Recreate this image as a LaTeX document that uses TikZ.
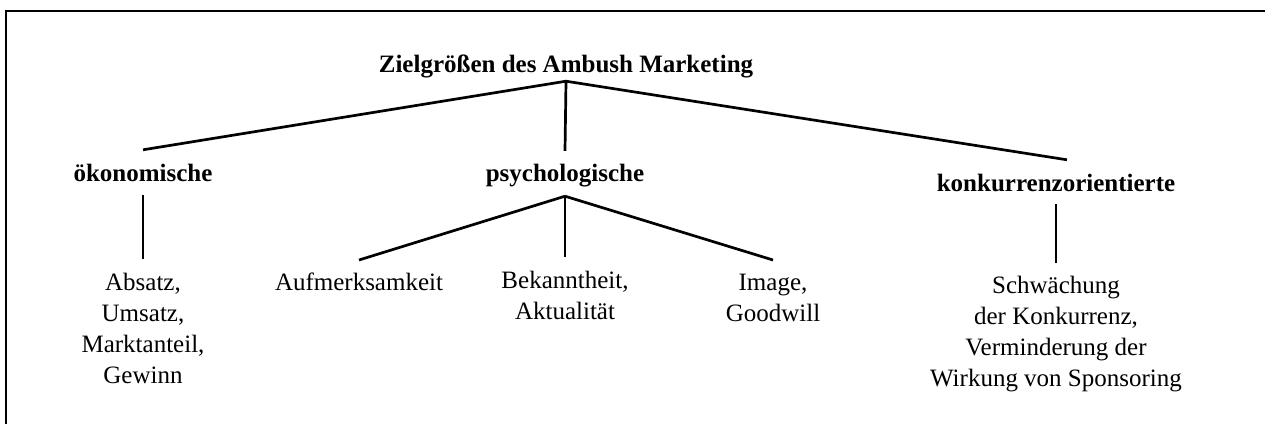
\documentclass[tikz,border=0pt]{standalone}
\usepackage{fontspec}
\setmainfont{Liberation Serif}
\begin{document}
\begin{tikzpicture}[x=1pt,y=-1pt,
  lvl/.style={inner sep=0pt,anchor=base,text height=18pt,text depth=6pt,
    font=\fontsize{25}{31}\selectfont\bfseries},
  leaf/.style={inner sep=0pt,anchor=north,align=center,
    font=\fontsize{25}{31}\selectfont},
  edge/.style={line width=2.7pt,line cap=butt}]
\useasboundingbox (0,0) rectangle (1265,423);
\clip (0,0) rectangle (1265,423);
\draw[line width=2.8pt] (6,11) rectangle (1290,450);
% level nodes
\node[lvl] (root) at (566,72) {Zielgrößen des Ambush Marketing};
\node[lvl] (oek) at (143,181) {ökonomische};
\node[lvl] (psy) at (565,181) {psychologische};
\node[lvl] (kon) at (1056,191) {konkurrenzorientierte};
% leaves
\node[leaf] (abs) at (143,273) {Absatz,\\Umsatz,\\Marktanteil,\\Gewinn};
\node[leaf] (auf) at (359,273) {Aufmerksamkeit};
\node[leaf] (bek) at (565,271) {Bekanntheit,\\Aktualität};
\node[leaf] (img) at (773,274) {Image,\\Goodwill};
\node[leaf] (sch) at (1056,276) {Schwächung\\der Konkurrenz,\\Verminderung der\\Wirkung von Sponsoring};
% connectors
\coordinate (rj) at ([yshift=-3pt]root.south);
\draw[edge] (rj) -- ([yshift=13pt]oek.north);
\draw[edge] (rj) -- ([yshift=12pt]psy.north);
\draw[edge] (rj) -- ([xshift=11pt,yshift=13pt]kon.north);
\draw[edge] ([yshift=-8pt]oek.south) -- ([yshift=14pt]abs.north);
\coordinate (pj) at ([yshift=-9pt]psy.south);
\draw[edge] (pj) -- ([yshift=13pt]auf.north);
\draw[edge] (pj) -- ([yshift=14pt]bek.north);
\draw[edge] (pj) -- ([yshift=14pt]img.north);
\draw[edge] ([yshift=-7pt]kon.south) -- ([yshift=13pt]sch.north);
\end{tikzpicture}
\end{document}
